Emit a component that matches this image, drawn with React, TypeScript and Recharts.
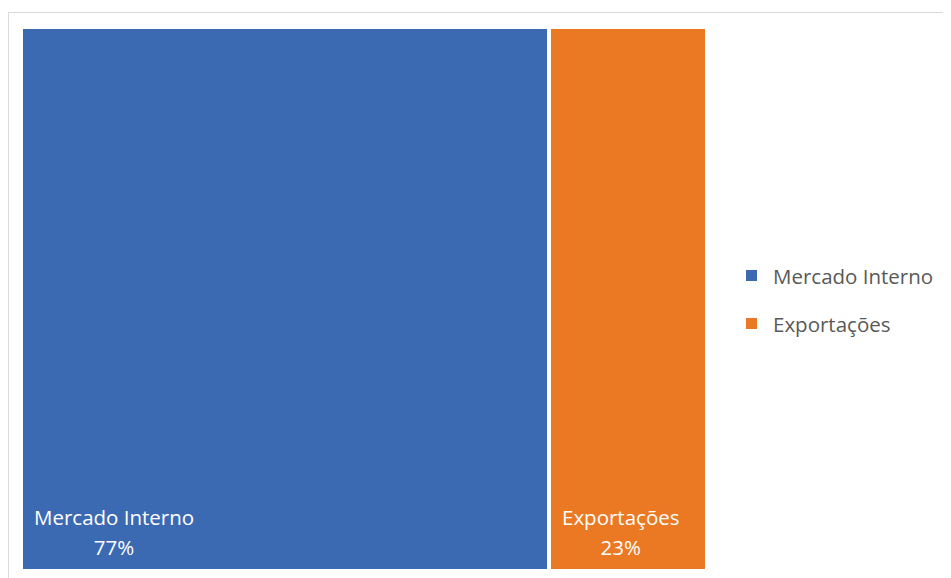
import React from "react";
import { Treemap } from "recharts";

const categories = ["Mercado Interno", "Exportações"];
const shares = [77, 23];
const colors = ["#3C6AB2", "#EB7823"];

const data = categories.map((name, i) => ({ name, value: shares[i], fill: colors[i] }));

const FONT = "'Open Sans', 'Noto Sans', sans-serif";
const FS = 20.5;

function measure(text: string): number {
  try {
    const c = document.createElement("canvas");
    const ctx = c.getContext("2d");
    if (!ctx) return text.length * FS * 0.55;
    ctx.font = `${FS}px 'Open Sans'`;
    return ctx.measureText(text).width;
  } catch (e) {
    return text.length * FS * 0.55;
  }
}

const Cell = (props: any) => {
  const { x, y, width, height, depth, name, value, index } = props;
  if (depth !== 1) return <g />;
  const fill = colors[index] ?? props.fill;
  const l1 = String(name);
  const l2 = `${value}%`;
  const w = Math.max(measure(l1), measure(l2));
  const cx = x + 13 + w / 2;
  return (
    <g>
      <rect x={x + 2} y={y + 2} width={width - 4} height={height - 4} fill={fill} stroke="none" />
      <text x={cx} y={y + height - 46} textAnchor="middle" fill="#ffffff" fontSize={FS} fontFamily={FONT}>
        {l1}
      </text>
      <text x={cx} y={y + height - 16} textAnchor="middle" fill="#ffffff" fontSize={FS} fontFamily={FONT}>
        {l2}
      </text>
    </g>
  );
};

export default function App() {
  return (
    <div style={{ position: "relative", width: 943, height: 570, overflow: "hidden", fontFamily: FONT }}>
      <div
        style={{
          position: "absolute",
          left: 0,
          top: 4,
          width: 960,
          height: 600,
          border: "1px solid #d9d9d9",
          boxSizing: "border-box",
        }}
      />
      <div style={{ position: "absolute", left: 13, top: 19 }}>
        <Treemap
          width={686}
          height={544}
          data={data}
          dataKey="value"
          nameKey="name"
          isAnimationActive={false}
          content={<Cell />}
        />
      </div>
      <svg style={{ position: "absolute", left: 720, top: 240 }} width={223} height={120}>
        {categories.map((c, i) => (
          <g key={c}>
            <rect x={18} y={22 + i * 48} width={11} height={11} fill={colors[i]} />
            <text x={45} y={36 + i * 48} fontSize={FS} fill="#595959" fontFamily={FONT}>
              {c}
            </text>
          </g>
        ))}
      </svg>
    </div>
  );
}
